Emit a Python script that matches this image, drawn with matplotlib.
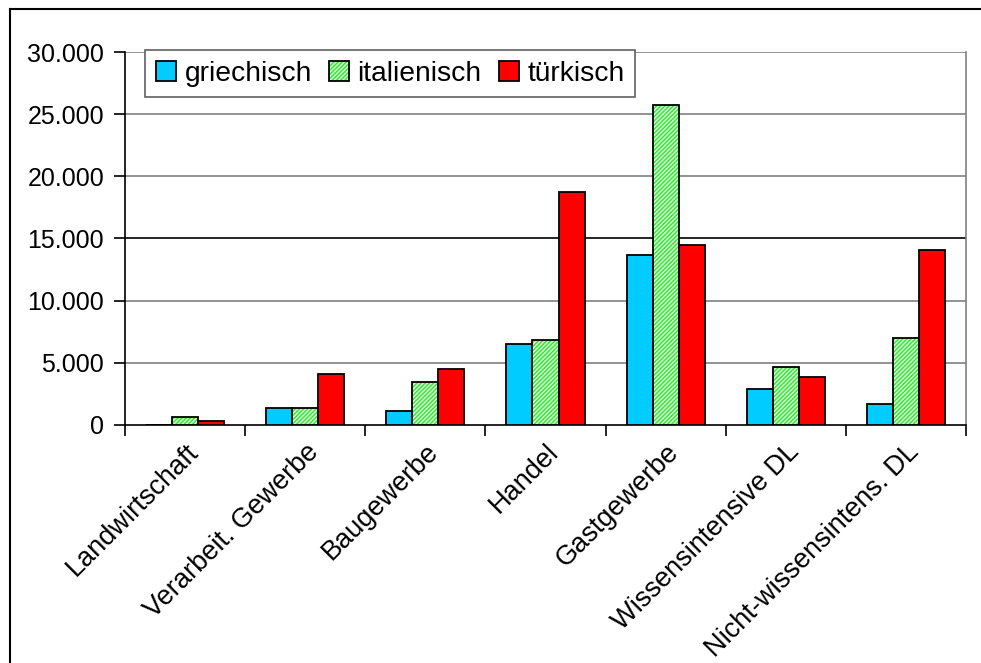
import matplotlib
matplotlib.use("Agg")
import matplotlib.pyplot as plt
from matplotlib.patches import Patch
from matplotlib.lines import Line2D
from matplotlib.ticker import FuncFormatter
import numpy as np

branchen = ["Landwirtschaft", "Verarbeit. Gewerbe", "Baugewerbe", "Handel",
            "Gastgewerbe", "Wissensintensive DL", "Nicht-wissensintens. DL"]
griechisch = [0, 1390, 1120, 6530, 13660, 2930, 1670]
italienisch = [620, 1390, 3460, 6830, 25700, 4650, 6990]
tuerkisch = [350, 4120, 4480, 18710, 14440, 3870, 14090]

plt.rcParams["font.family"] = ["Liberation Sans", "DejaVu Sans"]
plt.rcParams["hatch.linewidth"] = 1.0

fig = plt.figure(figsize=(9.81, 6.63), dpi=100)
ax = fig.add_axes([125 / 981, 238 / 663, 841 / 981, 373 / 663])

x = np.arange(len(branchen)) + 0.5
w = 0.217
gruen_fl = "#d8ffd8"
gruen_sch = "#2ee62e"

ax.bar(x - w, griechisch, w, color="#00ccff", edgecolor="black", linewidth=1.3, zorder=3)
ax.bar(x, italienisch, w, color=gruen_fl, edgecolor=gruen_sch, hatch="////////",
       linewidth=0, zorder=3)
ax.bar(x, italienisch, w, fill=False, edgecolor="black", linewidth=1.3, zorder=4)
ax.bar(x + w, tuerkisch, w, color="#ff0000", edgecolor="black", linewidth=1.3, zorder=3)

ax.set_xlim(0, 7)
ax.set_ylim(0, 30000)
ax.set_yticks(range(0, 30001, 5000))
ax.yaxis.set_major_formatter(FuncFormatter(lambda v, p: f"{int(v):,}".replace(",", ".")))

# horizontal gridlines, the 15.000 one drawn darker
for v in range(5000, 30001, 5000):
    ax.axhline(v, color="black" if v == 15000 else "#808080", lw=1.2, zorder=1)

ax.set_xticks(range(0, 8))
ax.set_xticklabels([])
ax.set_xticks(x, minor=True)
ax.set_xticklabels(branchen, minor=True, rotation=45, ha="right",
                   rotation_mode="anchor", fontsize=19.5)
ax.tick_params(axis="x", which="major", direction="out", length=8, width=1.2)
ax.tick_params(axis="x", which="minor", length=0, pad=10)
ax.tick_params(axis="y", direction="out", length=8, width=1.2, labelsize=18, pad=7)

for s in ["left", "bottom"]:
    ax.spines[s].set_color("black")
    ax.spines[s].set_linewidth(1.2)
ax.spines["top"].set_visible(False)
ax.spines["right"].set_color("#808080")
ax.spines["right"].set_linewidth(1.2)

handles = [
    Patch(facecolor="#00ccff", edgecolor="black", linewidth=1.3),
    (Patch(facecolor=gruen_fl, edgecolor=gruen_sch, hatch="////////", linewidth=0),
     Patch(fill=False, edgecolor="black", linewidth=1.3)),
    Patch(facecolor="#ff0000", edgecolor="black", linewidth=1.3),
]
leg = ax.legend(handles, ["griechisch", "italienisch", "türkisch"], ncol=3,
                loc="upper left", bbox_to_anchor=(20 / 841, 1 + 2 / 373),
                fontsize=20.3, frameon=True, fancybox=False, framealpha=1,
                edgecolor="#606060", handlelength=0.72, handleheight=0.72,
                handletextpad=0.3, columnspacing=0.6, borderpad=0.38,
                borderaxespad=0)
leg.get_frame().set_linewidth(1.2)
leg.set_zorder(5)

# outer frame of the chart
fx, fy = 10 / 981, 1 - 9 / 663
fig.add_artist(Line2D([fx, fx], [0, fy], color="black", lw=1.5, transform=fig.transFigure))
fig.add_artist(Line2D([fx, 1], [fy, fy], color="black", lw=1.5, transform=fig.transFigure))

fig.savefig("out.png", dpi=100)
